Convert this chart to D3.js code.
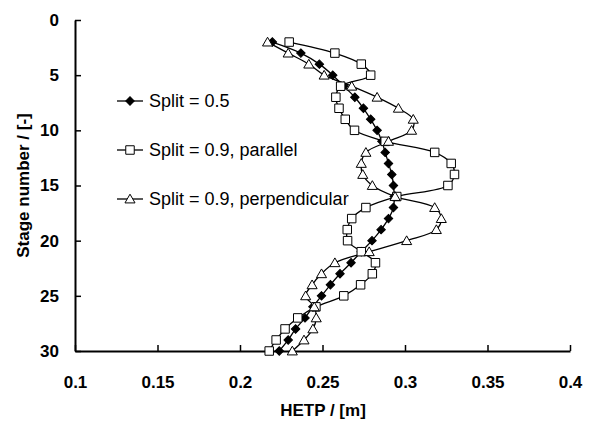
<!DOCTYPE html>
<html>
<head>
<meta charset="utf-8">
<script src="https://cdn.jsdelivr.net/npm/d3@7"></script>
<style>
  body { margin: 0; background: #fff; }
  svg { display: block; }
  text { font-family: "Liberation Sans", Arial, Helvetica, sans-serif; fill: #000; }
</style>
</head>
<body>
<svg id="chart" width="610" height="422"></svg>
<script>
// Stage numbers (stage 2 at the top of the column down to stage 30)
const stages = [2, 3, 4, 5, 6, 7, 8, 9, 10, 11, 12, 13, 14, 15, 16, 17, 18, 19, 20, 21, 22, 23, 24, 25, 26, 27, 28, 29, 30];

// HETP [m] per stage for each configuration
const split05 = [0.2196, 0.2369, 0.2481, 0.2562, 0.2629, 0.2696, 0.2748, 0.2792, 0.2831, 0.2860,
                 0.2880, 0.2900, 0.2920, 0.2930, 0.2935, 0.2930, 0.2900, 0.2855, 0.2800, 0.2735,
                 0.2673, 0.2606, 0.2548, 0.2494, 0.2442, 0.2394, 0.2337, 0.2292, 0.2238];
const split09Parallel = [0.2298, 0.2575, 0.2735, 0.2792, 0.2610, 0.2581, 0.2600, 0.2638, 0.2694, 0.2880,
                         0.3180, 0.3280, 0.3300, 0.3260, 0.2950, 0.2763, 0.2677, 0.2650, 0.2652, 0.2735,
                         0.2821, 0.2802, 0.2731, 0.2629, 0.2460, 0.2350, 0.2273, 0.2219, 0.2177];
const split09Perpendicular = [0.2167, 0.2292, 0.2417, 0.2510, 0.2677, 0.2831, 0.2960, 0.3050, 0.3040, 0.2900,
                              0.2763, 0.2735, 0.2744, 0.2802, 0.2940, 0.3180, 0.3220, 0.3190, 0.3010, 0.2783,
                              0.2575, 0.2494, 0.2437, 0.2398, 0.2450, 0.2462, 0.2442, 0.2388, 0.2317];

const seriesNames = ["Split = 0.5", "Split = 0.9, parallel", "Split = 0.9, perpendicular"];
const xTicks = [0.1, 0.15, 0.2, 0.25, 0.3, 0.35, 0.4];
const yTicks = [0, 5, 10, 15, 20, 25, 30];

const svg = d3.select("#chart");

const x = d3.scaleLinear().domain([0.1, 0.4]).range([75, 570]);
const y = d3.scaleLinear().domain([0, 30]).range([20, 351]);

// Axes with inward ticks
const xAxis = d3.axisBottom(x).tickValues(xTicks).tickFormat(d => String(d))
  .tickSizeInner(-6).tickSizeOuter(0).tickPadding(25);
const yAxis = d3.axisLeft(y).tickValues(yTicks).tickFormat(d => String(d))
  .tickSizeInner(-6).tickSizeOuter(0).tickPadding(16);

const gx = svg.append("g").attr("transform", `translate(0,${y(30)})`).call(xAxis);
const gy = svg.append("g").attr("transform", `translate(${x(0.1)},0)`).call(yAxis);

[gx, gy].forEach(g => {
  g.select(".domain").attr("stroke", "#000").attr("stroke-width", 2);
  g.selectAll(".tick line").attr("stroke", "#000").attr("stroke-width", 1.5);
  g.selectAll(".tick text").attr("font-size", 17).attr("font-weight", "bold")
    .attr("font-family", '"Liberation Sans", Arial, sans-serif').attr("fill", "#000");
});

// Axis titles
svg.append("text")
  .attr("x", 323).attr("y", 416)
  .attr("text-anchor", "middle")
  .attr("font-size", 17).attr("font-weight", "bold")
  .text("HETP / [m]");

svg.append("text")
  .attr("transform", `translate(29,${(y(0) + y(30)) / 2}) rotate(-90)`)
  .attr("text-anchor", "middle")
  .attr("font-size", 17).attr("font-weight", "bold")
  .text("Stage number / [-]");

// Marker drawing helpers
const markerTypes = ["diamond", "square", "triangle"];
function drawMarker(g, type) {
  if (type === "diamond") {
    g.append("path")
      .attr("d", d3.symbol(d3.symbolSquare, 36)())
      .attr("transform", "rotate(45)")
      .attr("fill", "#000").attr("stroke", "#000").attr("stroke-width", 1);
  } else if (type === "square") {
    g.append("path")
      .attr("d", d3.symbol(d3.symbolSquare, 72)())
      .attr("fill", "#fff").attr("stroke", "#000").attr("stroke-width", 1);
  } else {
    g.append("path")
      .attr("d", d3.symbol(d3.symbolTriangle, 44)())
      .attr("transform", "translate(0,1)")
      .attr("fill", "#fff").attr("stroke", "#000").attr("stroke-width", 1);
  }
}

const seriesValues = [split05, split09Parallel, split09Perpendicular];
const series = seriesValues.map((vals, i) => ({
  name: seriesNames[i],
  type: markerTypes[i],
  points: stages.map((s, j) => ({ s, v: vals[j] }))
}));

const line = d3.line()
  .x(d => x(d.v))
  .y(d => y(d.s))
  .curve(d3.curveCatmullRom.alpha(0.5));

const plot = svg.append("g");

// Lines first, markers on top
series.forEach(sr => {
  plot.append("path")
    .datum(sr.points)
    .attr("d", line)
    .attr("fill", "none")
    .attr("stroke", "#000")
    .attr("stroke-width", 1.3);
});

series.forEach(sr => {
  plot.append("g").selectAll("g")
    .data(sr.points)
    .join("g")
    .attr("transform", d => `translate(${x(d.v)},${y(d.s)})`)
    .each(function () { drawMarker(d3.select(this), sr.type); });
});

// Legend
const legendRows = [101, 150, 199];
series.forEach((sr, i) => {
  const g = svg.append("g").attr("transform", `translate(117,${legendRows[i]})`);
  g.append("line").attr("x1", 0).attr("x2", 26).attr("y1", 0).attr("y2", 0)
    .attr("stroke", "#000").attr("stroke-width", 1.3);
  drawMarker(g.append("g").attr("transform", "translate(13,0)"), sr.type);
  g.append("text").attr("x", 32).attr("y", 6)
    .attr("font-size", 18)
    .text(sr.name);
});
</script>
</body>
</html>
